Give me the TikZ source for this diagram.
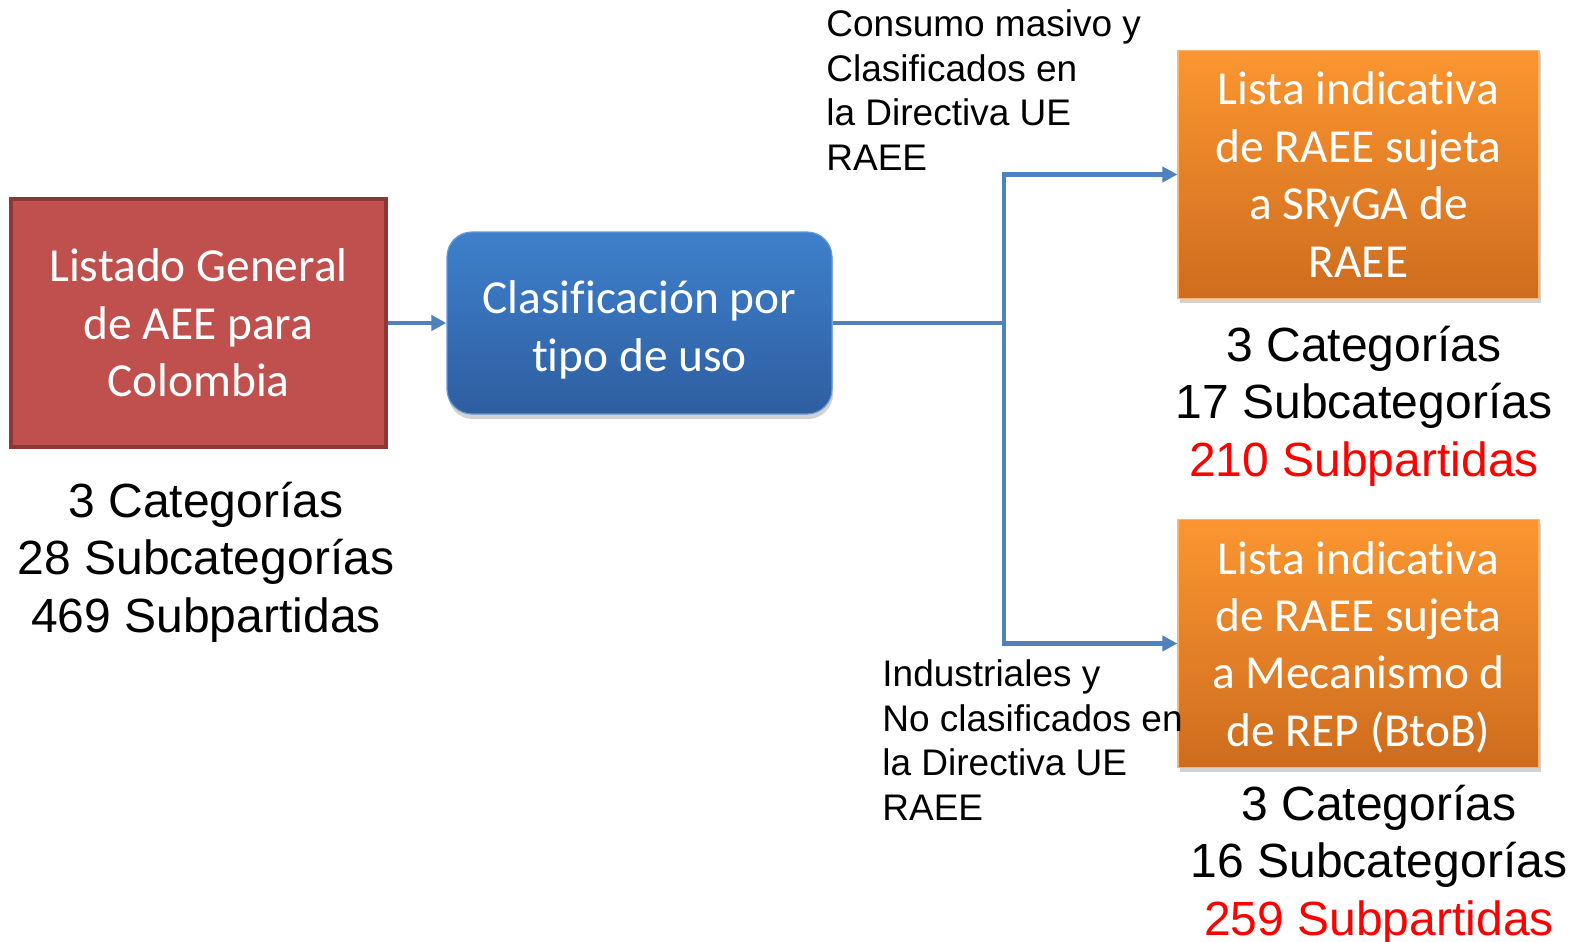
\documentclass[tikz,border=0pt]{standalone}
\usepackage{fontspec}
\setmainfont{Liberation Sans}
\newfontfamily\calfont[Ligatures=NoCommon]{Carlito}
\usetikzlibrary{arrows.meta,shadows,calc}
\definecolor{redfill}{RGB}{192,80,77}
\definecolor{redline}{RGB}{140,56,54}
\definecolor{bluetop}{RGB}{62,128,204}
\definecolor{bluebot}{RGB}{46,94,160}
\definecolor{orangetop}{RGB}{251,150,48}
\definecolor{orangebot}{RGB}{206,108,30}
\definecolor{connblue}{RGB}{79,129,189}
\definecolor{redtext}{RGB}{255,0,0}
\begin{document}
\begin{tikzpicture}[x=0.5pt,y=-0.5pt,
 boxtext/.style={font=\calfont\fontsize{23.7}{28.7}\selectfont, text=white, align=center, inner sep=0pt},
 redbox/.style={boxtext, fill=redfill, draw=redline, line width=2pt, minimum width=187.5pt, minimum height=124pt},
 bluebox/.style={boxtext, rounded corners=12.5pt, top color=bluetop, bottom color=bluebot, draw=bluetop!80!white, line width=0.6pt, minimum width=192.5pt, minimum height=91pt, drop shadow={opacity=0.35,shadow xshift=0.5pt,shadow yshift=-2.5pt}},
 orangebox/.style={boxtext, top color=orangetop, bottom color=orangebot, draw=orangetop!70!white, line width=0.6pt, minimum width=180.5pt, minimum height=124pt, drop shadow={opacity=0.35,shadow xshift=1pt,shadow yshift=-2pt}},
 counts/.style={font=\fontsize{24}{28.7}\selectfont, align=center, inner sep=0pt},
 sidelabel/.style={font=\fontsize{18.5}{22.3}\selectfont, align=left, inner sep=0pt, anchor=west},
 connline/.style={draw=connblue, line width=2.4pt},
 arr/.style={connline, -{Triangle[length=7.5pt,width=7.5pt]}}
]
\useasboundingbox (0,0) rectangle (1579,942);
\fill[white] (0,0) rectangle (1579,942);

\node[redbox] (list) at (198.5,323) {Listado General\\de AEE para\\Colombia};
\node[bluebox] (clas) at (639.5,323) {\rule{0pt}{23.5pt}Clasificación por\\tipo de uso};
\node[orangebox] (sryga) at (1358.5,174.5) {Lista indicativa\\de RAEE sujeta\\a SRyGA de\\RAEE};
\node[orangebox] (rep) at (1358.5,643.5) {\rule{0pt}{20pt}Lista indicativa\\de RAEE sujeta\\a Mecanismo d\\de REP (BtoB)};
\coordinate (split) at (1004,323);

\draw[arr] (list.east) -- (clas.west);
\draw[connline] (clas.east) -- (split);
\draw[arr] (split) |- (sryga.west);
\draw[arr] (split) |- (rep.west);

\node[counts] (c1) at (206,562) {3 Categorías\\28 Subcategorías\\469 Subpartidas};
\node[counts] (c2) at (1364,406) {3 Categorías\\17 Subcategorías\\\textcolor{redtext}{210 Subpartidas}};
\node[counts] (c3) at (1379,865) {3 Categorías\\16 Subcategorías\\\textcolor{redtext}{259 Subpartidas}};

\node[sidelabel] (l1) at (826,90) {Consumo masivo y\\Clasificados en\\la Directiva UE\\RAEE};
\node[sidelabel] (l2) at (882,740) {Industriales y\\No clasificados en\\la Directiva UE\\RAEE};
\end{tikzpicture}
\end{document}
